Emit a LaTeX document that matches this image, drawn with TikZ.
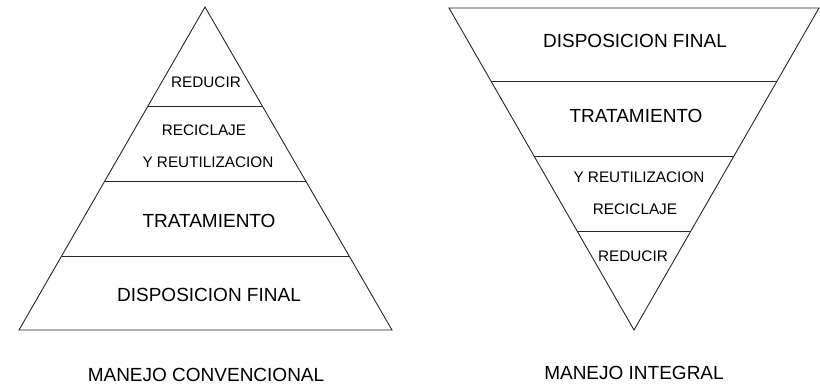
\documentclass[tikz,border=0pt]{standalone}
\usepackage{fontspec}
\setmainfont{Liberation Sans}
\usetikzlibrary{calc}
\begin{document}
\begin{tikzpicture}[x=1pt,y=-1pt,
  edge/.style={draw=black!85,line width=0.9pt,line join=miter},
  big/.style={inner sep=0pt,font=\fontsize{19}{22}\selectfont},
  small/.style={inner sep=0pt,font=\fontsize{15.3}{18}\selectfont}]
\useasboundingbox (0,0) rectangle (820,384);
% left pyramid
\coordinate (LA) at (205,7);
\coordinate (LL) at (19,330);
\coordinate (LR) at (392,330);
\draw[edge] (LA) -- (LL) -- (LR) -- cycle;
\draw[edge] ($(LA)!{99/323}!(LL)$) -- ($(LA)!{99/323}!(LR)$);
\draw[edge] ($(LA)!{174/323}!(LL)$) -- ($(LA)!{174/323}!(LR)$);
\draw[edge] ($(LA)!{249/323}!(LL)$) -- ($(LA)!{249/323}!(LR)$);
\node[small] (l1) at (206,82) {REDUCIR};
\node[small] (l2) at (204,130) {RECICLAJE};
\node[small] (l3) at (208,162) {Y REUTILIZACION};
\node[big] (l4) at (209,221) {TRATAMIENTO};
\node[big] (l5) at (209,295) {DISPOSICION FINAL};
\node[big] (l6) at (206,375) {MANEJO CONVENCIONAL};
% right pyramid
\coordinate (RA) at (634,330);
\coordinate (RL) at (449,8);
\coordinate (RR) at (819,8);
\draw[edge] (RL) -- (RR) -- (RA) -- cycle;
\draw[edge] ($(RL)!{73/322}!(RA)$) -- ($(RR)!{73/322}!(RA)$);
\draw[edge] ($(RL)!{148/322}!(RA)$) -- ($(RR)!{148/322}!(RA)$);
\draw[edge] ($(RL)!{223/322}!(RA)$) -- ($(RR)!{223/322}!(RA)$);
\node[big] (r1) at (635,41) {DISPOSICION FINAL};
\node[big] (r2) at (636,116) {TRATAMIENTO};
\node[small] (r3) at (639,177) {Y REUTILIZACION};
\node[small] (r4) at (635,209) {RECICLAJE};
\node[small] (r5) at (633,256) {REDUCIR};
\node[big] (r6) at (634,373) {MANEJO INTEGRAL};
\end{tikzpicture}
\end{document}
